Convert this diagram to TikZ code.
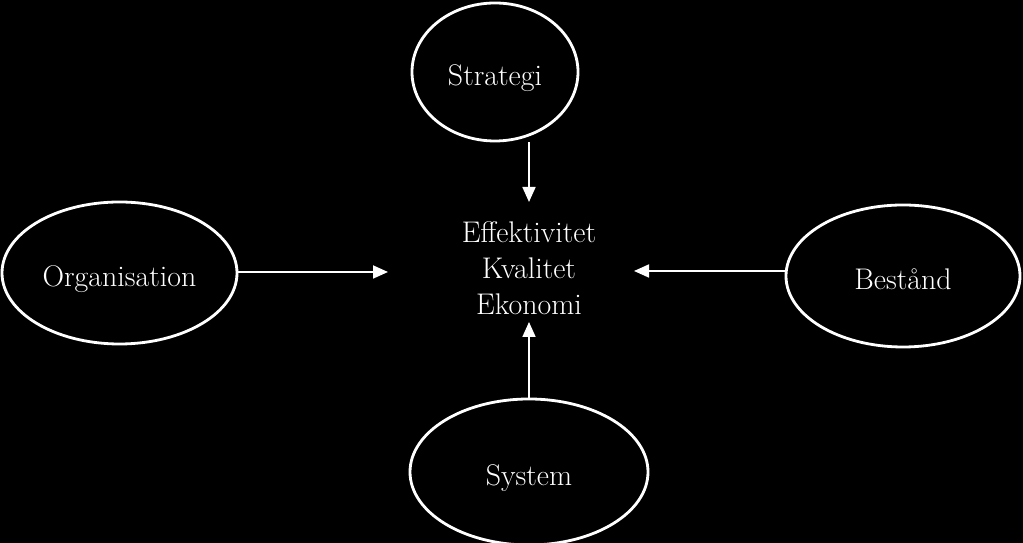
\documentclass[tikz,border=0pt]{standalone}
\usepackage{fontspec}
\usepackage{tikz}
\usetikzlibrary{shapes.geometric,arrows.meta}
\tikzset{
  ring/.style={draw=white,line width=1.6pt,ellipse,inner sep=0pt,text=white,
    text height=15pt,text depth=0pt,font=\fontsize{17}{19}\selectfont},
  pil/.style={draw=white,line width=1pt,-{Triangle[length=3mm,width=2.6mm]}}
}

\begin{document}
\begin{tikzpicture}
\fill[black] (0,0) rectangle (20.46,10.86);
\useasboundingbox (0,0) rectangle (20.46,10.86);
\node[ring,minimum width=3.32cm,minimum height=2.76cm] (strategi) at (9.9,9.42) {Strategi};
\node[ring,minimum width=4.7cm,minimum height=2.84cm] (organisation) at (2.39,5.4) {Organisation};
\node[ring,minimum width=4.68cm,minimum height=2.84cm] (bestand) at (18.06,5.34) {Bestånd};
\node[ring,minimum width=4.76cm,minimum height=2.92cm] (system) at (10.58,1.42) {System};
\node[text=white,align=center,font=\fontsize{17}{20.5}\selectfont] (mal) at (10.58,5.5) {Effektivitet\\Kvalitet\\Ekonomi};
\coordinate (mal-n) at (10.58,6.82);
\coordinate (mal-w) at (7.76,5.42);
\coordinate (mal-e) at (12.68,5.44);
\coordinate (mal-s) at (10.58,4.42);
\draw[pil] (strategi.south -| mal-n) -- (mal-n);
\draw[pil] (organisation.east |- mal-w) -- (mal-w);
\draw[pil] (bestand.west |- mal-e) -- (mal-e);
\draw[pil] (system.north) -- (mal-s);
\end{tikzpicture}
\end{document}
